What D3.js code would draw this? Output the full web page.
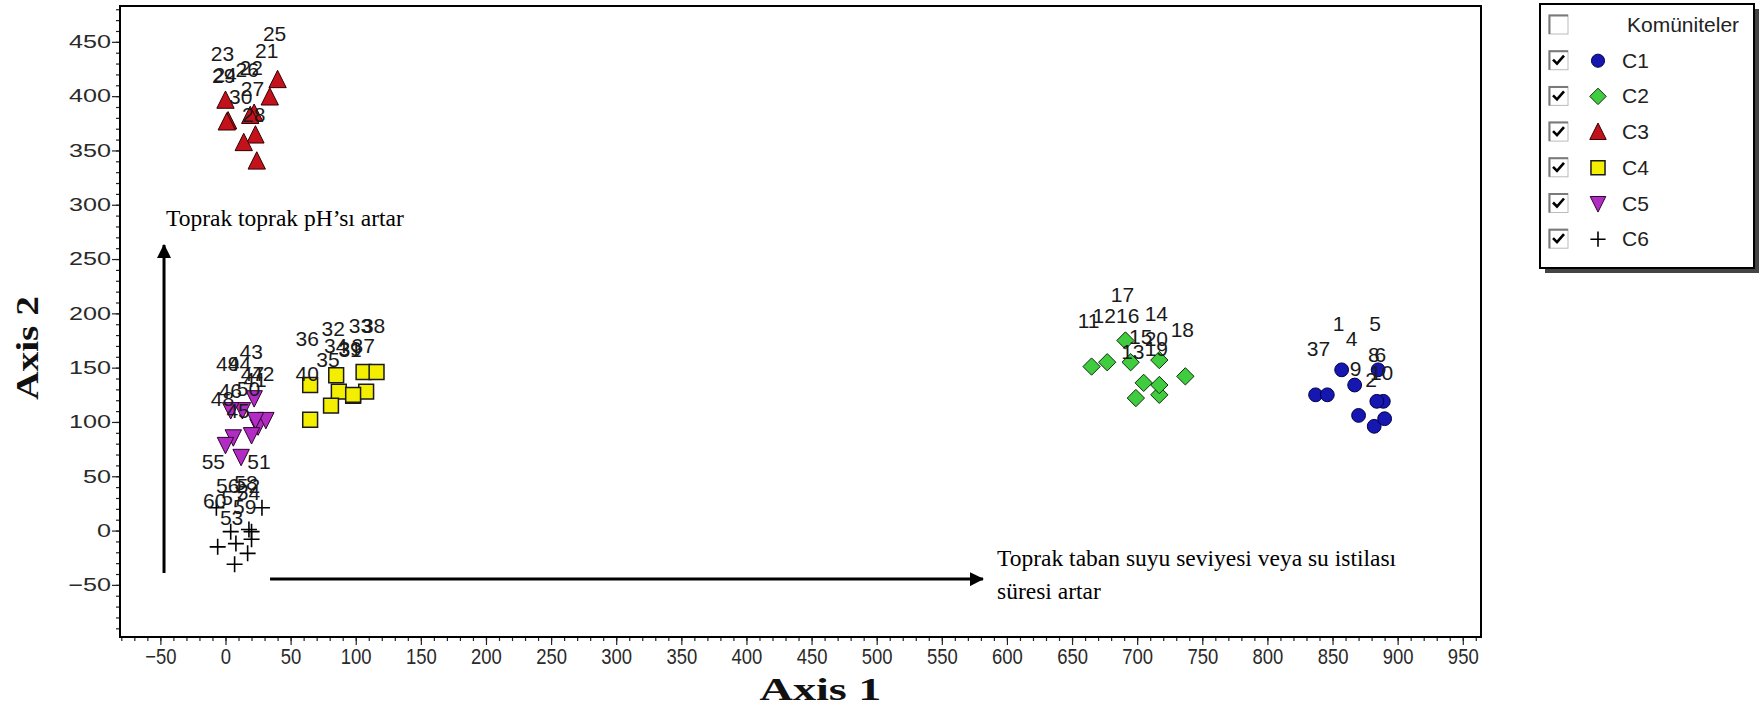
<!DOCTYPE html>
<html>
<head>
<meta charset="utf-8">
<script src="https://cdn.jsdelivr.net/npm/d3@7"></script>
<style>
body { margin: 0; background: #fff; }
svg { display: block; }
.tick text { font-family: "Liberation Sans", Arial, sans-serif; fill: #2a2a2a; }
.ptlabel { font-family: "Liberation Sans", Arial, sans-serif; font-size: 21px; fill: #1a1a1a; text-anchor: middle; }
.note { font-family: "Liberation Serif", "Times New Roman", serif; font-size: 23.5px; fill: #000; }
.axisTitle { font-family: "Liberation Serif", "Times New Roman", serif; font-weight: bold; font-size: 31px; fill: #111; }
.leg { font-family: "Liberation Sans", Arial, sans-serif; font-size: 21px; fill: #222; }
</style>
</head>
<body>
<script>
'use strict'

// plot number, axis 1, axis 2
const c1 = [[1, 857, 148], [2, 882, 96], [3, 837, 125], [4, 867, 134], [5, 885, 148],
	[6, 889, 119], [7, 846, 125], [8, 884, 119], [9, 870, 106], [10, 890, 103]];
const c2 = [[11, 665, 151], [12, 677, 155], [13, 699, 122], [14, 717, 157], [15, 705, 136],
	[16, 695, 155], [17, 691, 175], [18, 737, 142], [19, 717, 125], [20, 717, 134]];
const c3 = [[21, 34, 399], [22, 22, 384], [23, 0, 396], [24, 2, 377], [25, 40, 415],
	[26, 19, 382], [27, 23, 364], [28, 24, 340], [29, 1, 376], [30, 14, 357]];
const c4 = [[31, 98, 124], [32, 85, 143], [33, 106, 146], [34, 87, 128], [35, 81, 115],
	[36, 65, 134], [37, 108, 128], [38, 116, 146], [39, 98, 125], [40, 65, 102]];
const c5 = [[41, 25, 96], [42, 31, 102], [43, 22, 122], [44, 13, 111], [45, 12, 68],
	[46, 6, 86], [47, 23, 102], [48, 0, 79], [49, 4, 111], [50, 20, 88]];
const c6 = [[51, 28, 21], [52, 20, -1], [53, 7, -31], [54, 20, -8], [55, -7, 21],
	[56, 4, -1], [57, 8, -12], [58, 18, 1], [59, 17, -21], [60, -6, -15]];

const groupNames = ["C1", "C2", "C3", "C4", "C5", "C6"];
const legendTitle = "Komüniteler";
const xTickValues = [-50, 0, 50, 100, 150, 200, 250, 300, 350, 400, 450, 500, 550, 600, 650, 700, 750, 800, 850, 900, 950];
const yTickValues = [-50, 0, 50, 100, 150, 200, 250, 300, 350, 400, 450];
const xTitle = "Axis 1";
const yTitle = "Axis 2";

// arrows drawn in data units
const upArrow = [[-47.2, -39], [-47.2, 263]];
const rightArrow = [[34.2, -44.7], [581.6, -44.7]];
const upNote = { x: -45.7, y: 280, lines: ["Toprak toprak pH’sı artar"] };
const rightNote = { x: 592.4, y: -33, lines: ["Toprak taban suyu seviyesi veya su istilası", "süresi artar"] };

const w = 1762;
const h = 709;

const xScale = d3.scaleLinear().domain([-81, 964]).range([120, 1481]);
const yScale = d3.scaleLinear().domain([-98, 483]).range([637, 6]);

// marker shapes
const triUp = { draw(ctx, size) { const s = Math.sqrt(size); ctx.moveTo(0, -s * 0.55); ctx.lineTo(s * 0.5, s * 0.45); ctx.lineTo(-s * 0.5, s * 0.45); ctx.closePath(); } };
const triDown = { draw(ctx, size) { const s = Math.sqrt(size); ctx.moveTo(0, s * 0.55); ctx.lineTo(s * 0.5, -s * 0.45); ctx.lineTo(-s * 0.5, -s * 0.45); ctx.closePath(); } };
const diamond = { draw(ctx, size) { const r = Math.sqrt(size) / 2; ctx.moveTo(0, -r); ctx.lineTo(r, 0); ctx.lineTo(0, r); ctx.lineTo(-r, 0); ctx.closePath(); } };
const plus = { draw(ctx, size) { const r = Math.sqrt(size) / 2; ctx.moveTo(-r, 0); ctx.lineTo(r, 0); ctx.moveTo(0, -r); ctx.lineTo(0, r); } };

const styles = [
	{ data: c1, type: d3.symbolCircle, size: 150, fill: "#1616b0", stroke: "#000048", sw: 1 },
	{ data: c2, type: diamond, size: 300, fill: "#3fcc3f", stroke: "#0b300b", sw: 1 },
	{ data: c3, type: triUp, size: 300, fill: "#c4121c", stroke: "#300000", sw: 1 },
	{ data: c4, type: d3.symbolSquare, size: 220, fill: "#f4ee00", stroke: "#1a1a1a", sw: 1.5 },
	{ data: c5, type: triDown, size: 270, fill: "#b02cc2", stroke: "#300030", sw: 1 },
	{ data: c6, type: plus, size: 256, fill: "none", stroke: "#000", sw: 1.6 }
];

const svg = d3.select("body").append("svg")
	.attr("width", w)
	.attr("height", h);

svg.append("defs").append("marker")
	.attr("id", "head")
	.attr("markerUnits", "userSpaceOnUse")
	.attr("viewBox", "0 -7 14 14")
	.attr("refX", 13)
	.attr("refY", 0)
	.attr("markerWidth", 14)
	.attr("markerHeight", 14)
	.attr("orient", "auto")
	.append("path")
	.attr("d", "M0,-7L14,0L0,7Z")
	.attr("fill", "#000");

// axes
const x0 = xScale.range()[0], x1 = xScale.range()[1];
const y0 = yScale.range()[0], y1 = yScale.range()[1];

const xMinor = d3.range(-80, 961, 10);
const yMinor = d3.range(-90, 481, 10);

svg.append("g")
	.attr("transform", "translate(0," + y0 + ")")
	.call(d3.axisBottom(xScale).tickValues(xMinor).tickSize(4).tickFormat(""))
	.call(g => g.select(".domain").remove());

svg.append("g")
	.attr("transform", "translate(" + x0 + ",0)")
	.call(d3.axisLeft(yScale).tickValues(yMinor).tickSize(4).tickFormat(""))
	.call(g => g.select(".domain").remove());

const xAxis = svg.append("g")
	.attr("id", "x-axis")
	.attr("transform", "translate(0," + y0 + ")")
	.call(d3.axisBottom(xScale).tickValues(xTickValues).tickSize(8).tickPadding(3))
	.call(g => g.select(".domain").remove());
xAxis.selectAll(".tick text")
	.style("font-size", "21px")
	.attr("transform", "scale(0.88,1.06)");

const yAxis = svg.append("g")
	.attr("id", "y-axis")
	.attr("transform", "translate(" + x0 + ",0)")
	.call(d3.axisLeft(yScale).tickValues(yTickValues).tickSize(8))
	.call(g => g.select(".domain").remove());
yAxis.selectAll(".tick text")
	.style("font-size", "18px")
	.attr("x", -9 / 1.4)
	.attr("transform", "scale(1.4,1)");

svg.selectAll(".tick line").attr("stroke", "#222").attr("stroke-width", 1.2);

// frame
svg.append("rect")
	.attr("x", x0)
	.attr("y", y1)
	.attr("width", x1 - x0)
	.attr("height", y0 - y1)
	.attr("fill", "none")
	.attr("stroke", "#000")
	.attr("stroke-width", 2);

// axis titles
svg.append("text")
	.attr("class", "axisTitle")
	.attr("x", (x0 + x1) / 2 + 20)
	.attr("y", 700)
	.attr("text-anchor", "middle")
	.attr("textLength", 122)
	.attr("lengthAdjust", "spacingAndGlyphs")
	.text(xTitle);

svg.append("text")
	.attr("class", "axisTitle")
	.attr("transform", "translate(38,348) rotate(-90)")
	.attr("text-anchor", "middle")
	.attr("textLength", 104)
	.attr("lengthAdjust", "spacingAndGlyphs")
	.text(yTitle);

// arrows and notes
[upArrow, rightArrow].forEach(a => {
	svg.append("line")
		.attr("x1", xScale(a[0][0]))
		.attr("y1", yScale(a[0][1]))
		.attr("x2", xScale(a[1][0]))
		.attr("y2", yScale(a[1][1]))
		.attr("stroke", "#000")
		.attr("stroke-width", 3)
		.attr("marker-end", "url(#head)");
});

[upNote, rightNote].forEach(n => {
	svg.append("text")
		.attr("class", "note")
		.selectAll("tspan")
		.data(n.lines)
		.enter()
		.append("tspan")
		.attr("x", xScale(n.x))
		.attr("y", (d, i) => yScale(n.y) + i * 33)
		.text(d => d);
});

// points
styles.forEach(s => {
	svg.append("g")
		.selectAll("path")
		.data(s.data)
		.enter()
		.append("path")
		.attr("transform", d => "translate(" + xScale(d[1]) + "," + yScale(d[2]) + ")")
		.attr("d", d3.symbol().type(s.type).size(s.size))
		.attr("fill", s.fill)
		.attr("stroke", s.stroke)
		.attr("stroke-width", s.sw);
});

// plot numbers sit above their points
styles.forEach(s => {
	svg.append("g")
		.selectAll("text")
		.data(s.data)
		.enter()
		.append("text")
		.attr("class", "ptlabel")
		.attr("x", d => xScale(d[1]) - 3)
		.attr("y", d => yScale(d[2]) - 39)
		.text(d => d[0]);
});

// legend
const lg = svg.append("g").attr("transform", "translate(1540,4)");
const rowY = i => 21 + i * 35.7;

lg.append("rect")
	.attr("x", 5).attr("y", 5)
	.attr("width", 214).attr("height", 264)
	.attr("fill", "#444");
lg.append("rect")
	.attr("width", 214).attr("height", 264)
	.attr("fill", "#fff")
	.attr("stroke", "#000")
	.attr("stroke-width", 2);

const rows = [legendTitle].concat(groupNames);
rows.forEach((name, i) => {
	const cy = rowY(i);
	const box = lg.append("g").attr("transform", "translate(9," + (cy - 10) + ")");
	box.append("rect").attr("width", 19).attr("height", 19).attr("fill", "#fff").attr("stroke", "#bbb");
	box.append("path").attr("d", "M0.5,19V0.5H19").attr("fill", "none").attr("stroke", "#7a7a7a").attr("stroke-width", 2);
	if (i > 0) {
		box.append("path").attr("d", "M4,9L8,13L15,5").attr("fill", "none").attr("stroke", "#000").attr("stroke-width", 2.6);
		const s = styles[i - 1];
		lg.append("path")
			.attr("transform", "translate(58," + cy + ")")
			.attr("d", d3.symbol().type(s.type).size(s.size * 0.9))
			.attr("fill", s.fill)
			.attr("stroke", s.stroke)
			.attr("stroke-width", s.sw);
	}
	lg.append("text")
		.attr("class", "leg")
		.attr("x", i > 0 ? 82 : 87)
		.attr("y", cy + 7)
		.text(name);
});
</script>
</body>
</html>
